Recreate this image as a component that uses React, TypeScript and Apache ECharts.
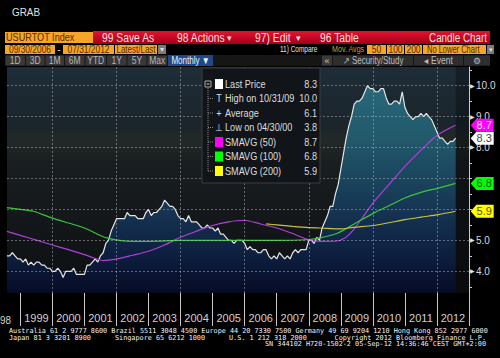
import React, { useEffect, useRef } from "react";
import * as echarts from "echarts";

// ---------- DATA ----------
const startYear = 1998;
const startMonth = 7; // first point: end of July 1998
const lastPrice = [
  // 1998 Jul-Dec
  4.5, 4.5, 4.6, 4.5, 4.4, 4.4,
  // 1999
  4.3, 4.4, 4.2, 4.3, 4.2, 4.3, 4.3, 4.2, 4.2, 4.1, 4.1, 4.0,
  // 2000
  4.0, 4.1, 4.0, 3.8, 4.0, 4.0, 4.0, 4.1, 3.9, 3.9, 3.9, 3.9,
  // 2001
  4.2, 4.2, 4.3, 4.4, 4.3, 4.5, 4.6, 4.9, 5.0, 5.3, 5.5, 5.7,
  // 2002
  5.7, 5.7, 5.7, 5.9, 5.8, 5.8, 5.8, 5.7, 5.7, 5.7, 5.9, 6.0,
  // 2003
  5.8, 5.9, 5.9, 6.0, 6.1, 6.3, 6.2, 6.1, 6.1, 6.0, 5.8, 5.7,
  // 2004
  5.7, 5.6, 5.8, 5.6, 5.6, 5.6, 5.5, 5.4, 5.4, 5.5, 5.4, 5.4,
  // 2005
  5.3, 5.4, 5.2, 5.2, 5.1, 5.0, 5.0, 4.9, 5.0, 5.0, 5.0, 4.9,
  // 2006
  4.7, 4.8, 4.7, 4.7, 4.6, 4.6, 4.7, 4.7, 4.5, 4.4, 4.5, 4.4,
  // 2007
  4.6, 4.5, 4.4, 4.5, 4.4, 4.6, 4.7, 4.6, 4.7, 4.7, 4.7, 5.0,
  // 2008
  5.0, 4.9, 5.1, 5.0, 5.4, 5.6, 5.8, 6.1, 6.1, 6.5, 6.8, 7.3,
  // 2009
  7.8, 8.3, 8.7, 9.0, 9.4, 9.5, 9.5, 9.6, 9.8, 10.0, 9.9, 9.9,
  // 2010
  9.8, 9.8, 9.9, 9.9, 9.6, 9.4, 9.4, 9.5, 9.5, 9.4, 9.8, 9.3,
  // 2011
  9.1, 9.0, 8.9, 9.0, 9.0, 9.1, 9.0, 9.1, 9.0, 8.9, 8.7, 8.5,
  // 2012 Jan-Jul
  8.3, 8.3, 8.2, 8.1, 8.2, 8.2, 8.3,
];

const sma50Years = [1998.58, 1999.0, 1999.5, 2000.0, 2000.5, 2001.0, 2001.3, 2001.6, 2002.0, 2002.5, 2003.0, 2003.5, 2004.0, 2004.5, 2005.0, 2005.5, 2005.95, 2006.5, 2007.0, 2007.5, 2008.0, 2008.4, 2008.85, 2009.13, 2009.4, 2009.7, 2010.0, 2010.54, 2011.0, 2011.52, 2012.03, 2012.58];
const sma50Values = [5.29, 5.16, 5.01, 4.85, 4.70, 4.54, 4.43, 4.35, 4.40, 4.52, 4.65, 4.85, 5.10, 5.30, 5.48, 5.60, 5.65, 5.53, 5.40, 5.22, 5.02, 4.97, 4.98, 5.08, 5.35, 5.77, 6.20, 6.85, 7.39, 7.93, 8.41, 8.72];

const sma100Years = [1998.58, 1999.0, 1999.4, 2000.0, 2000.5, 2001.0, 2001.7, 2002.5, 2003.0, 2004.0, 2005.0, 2006.0, 2007.0, 2007.9, 2008.35, 2008.87, 2009.39, 2010.02, 2010.5, 2011.0, 2011.5, 2012.04, 2012.58];
const sma100Values = [6.06, 6.00, 5.94, 5.72, 5.56, 5.40, 5.08, 4.97, 4.97, 5.0, 5.0, 5.0, 5.0, 5.02, 5.08, 5.22, 5.51, 5.88, 6.12, 6.37, 6.55, 6.69, 6.84];

const sma200Years = [2006.67, 2007.0, 2007.5, 2008.0, 2008.35, 2008.98, 2009.39, 2010.02, 2010.5, 2011.0, 2011.5, 2012.04, 2012.58];
const sma200Values = [5.53, 5.50, 5.45, 5.41, 5.40, 5.37, 5.42, 5.48, 5.57, 5.67, 5.75, 5.83, 5.94];

const yearTicks = [1999, 2000, 2001, 2002, 2003, 2004, 2005, 2006, 2007, 2008, 2009, 2010, 2011, 2012, 2013];
const yearLabelPos = [1999.5, 2000.5, 2001.5, 2002.5, 2003.5, 2004.5, 2005.5, 2006.5, 2007.5, 2008.5, 2009.5, 2010.5, 2011.5, 2012.5];
const gridYears = [2000, 2002, 2004, 2006, 2008, 2010, 2012];
const priceGrid = [4, 5, 6, 7, 8, 9, 10];
const priceLabels = [4, 5, 8, 9, 10]; // 6.0 and 7.0 sit under the value tags
const priceTicks = [3.5, 4, 4.5, 5, 5.5, 6, 6.5, 7, 7.5, 8, 8.5, 9, 9.5, 10, 10.5];

const legendLabels = ["Last Price", "High on 10/31/09", "Average", "Low on 04/30/00", "SMAVG (50)", "SMAVG (100)", "SMAVG (200)"];
const legendValues = ["8.3", "10.0", "6.1", "3.8", "8.7", "6.8", "5.9"];

const FONT = "'Liberation Sans', Arial, sans-serif";
const MONO = "'DejaVu Sans Mono', 'Liberation Mono', monospace";

function R(x: number, y: number, w: number, h: number, fill: any, z = 50, stroke?: string) {
  return {
    type: "rect",
    shape: { x, y, width: w, height: h },
    style: { fill, stroke: stroke || null, lineWidth: stroke ? 1 : 0 },
    z,
    silent: true,
  };
}
function T(x: number, y: number, text: string, fill: string, size: number, align = "left", sx = 0.82, font = FONT, z = 60) {
  return {
    type: "text",
    x,
    y,
    scaleX: sx,
    style: {
      text,
      fill,
      fontSize: size,
      fontFamily: font,
      textAlign: align,
      align,
      textVerticalAlign: "middle",
      verticalAlign: "middle",
    },
    z,
    silent: true,
  };
}

const ORANGE = "#f5a52a";
const DARK = "#5a2800";
const PINK = "#f8dede";

function buildGraphics() {
  const g: any[] = [];
  // plot background
  g.push({
    type: "rect",
    shape: { x: 7, y: 67, width: 462, height: 226 },
    style: {
      fill: new echarts.graphic.LinearGradient(0, 0, 0, 1, [
        { offset: 0, color: "#1e2d38" },
        { offset: 0.25, color: "#1b252c" },
        { offset: 0.33, color: "#222927" },
        { offset: 0.42, color: "#191e21" },
        { offset: 0.65, color: "#14181b" },
        { offset: 1, color: "#0d0f12" },
      ]),
    },
    z: 0,
    silent: true,
  });
  // title
  g.push(T(12, 12, "GRAB", "#e0e0e0", 11, "left", 0.9));
  // row 1
  g.push(R(5, 32, 88, 11, ORANGE));
  g.push(T(6, 37.5, "USURTOT Index", DARK, 11, "left", 0.83));
  g.push(
    R(
      93,
      31,
      397,
      13,
      new echarts.graphic.LinearGradient(0, 0, 0, 1, [
        { offset: 0, color: "#e3142f" },
        { offset: 1, color: "#a3001a" },
      ])
    )
  );
  g.push(T(102, 37.5, "99 Save As", PINK, 12, "left", 0.86));
  g.push(T(177, 37.5, "98 Actions", PINK, 12, "left", 0.86));
  g.push(T(229, 37.5, "▾", PINK, 9, "center", 1));
  g.push(T(255, 37.5, "97) Edit", PINK, 12, "left", 0.86));
  g.push(T(298, 37.5, "▾", PINK, 9, "center", 1));
  g.push(T(320, 37.5, "96 Table", PINK, 12, "left", 0.86));
  g.push(T(487, 37.5, "Candle Chart", PINK, 12, "right", 0.82));
  // row 2
  g.push(R(5, 45, 50, 9, ORANGE));
  g.push(T(30, 49.5, "09/30/2006", DARK, 10, "center", 0.84));
  g.push(T(59, 49.5, "-", "#dddddd", 10, "center", 1));
  g.push(R(63, 45, 51, 9, ORANGE));
  g.push(T(88.5, 49.5, "07/31/2012", DARK, 10, "center", 0.84));
  g.push(R(115, 45, 42, 9, ORANGE));
  g.push(T(136, 49.5, "Latest/Last", DARK, 10, "center", 0.8));
  g.push(R(158, 45, 8, 9, "#7a7a7a"));
  g.push(T(162, 49.5, "▾", "#dddddd", 8, "center", 1));
  g.push(T(280, 49.5, "11) Compare", "#e0e0e0", 9, "left", 0.72));
  g.push(T(332, 49.5, "Mov. Avgs", "#c89b3c", 9, "left", 0.79));
  g.push(R(367, 45, 19, 9, ORANGE));
  g.push(T(376.5, 49.5, "50", DARK, 10, "center", 0.85));
  g.push(R(387, 45, 17, 9, ORANGE));
  g.push(T(395.5, 49.5, "100", DARK, 10, "center", 0.85));
  g.push(R(405, 45, 17, 9, ORANGE));
  g.push(T(413.5, 49.5, "200", DARK, 10, "center", 0.85));
  g.push(R(423, 45, 63, 9, ORANGE));
  g.push(T(427, 49.5, "No Lower Chart", DARK, 10, "left", 0.75));
  g.push(R(487, 45, 7, 9, "#7a7a7a"));
  g.push(T(490.5, 49.5, "▾", "#dddddd", 7, "center", 1));
  // row 3
  g.push(R(5, 55, 485, 11, "#161616"));
  const btns: [string, number, number][] = [
    ["1D", 5, 25.5],
    ["3D", 25.5, 45],
    ["1M", 45, 64.5],
    ["6M", 64.5, 85],
    ["YTD", 85, 106.5],
    ["1Y", 106.5, 127],
    ["5Y", 127, 147],
    ["Max", 147, 167.5],
  ];
  btns.forEach(([t, a, b]) => {
    g.push(R(a + 0.5, 55.5, b - a - 1, 10, "#383838"));
    g.push(T((a + b) / 2, 60.5, t, "#b5b5b5", 10, "center", 0.85));
  });
  g.push(R(168, 55, 45, 11, "#1d4a87"));
  g.push(T(190.5, 60.5, "Monthly ▼", "#f0f0f0", 10, "center", 0.8));
  g.push(R(322, 55.5, 10, 10, "#3a3a3a"));
  g.push(T(327, 60.5, "«", "#cccccc", 9, "center", 1));
  g.push(R(333, 55.5, 80, 10, "#2e2e2e"));
  g.push(T(373, 60.5, "↗ Security/Study", "#bbbbbb", 10, "center", 0.8));
  g.push(R(414, 55.5, 49, 10, "#2e2e2e"));
  g.push(T(438.5, 60.5, "◂ Event", "#bbbbbb", 10, "center", 0.85));
  g.push(R(464, 55.5, 26, 10, "#2e2e2e"));
  g.push(T(477, 60.5, "⚙", "#bbbbbb", 9, "center", 1));

  // legend box
  g.push(R(202, 68, 118, 115, "#111519", 100, "#3a3d40"));
  const rowY = [84, 98.5, 113, 127.5, 142, 156.5, 171];
  g.push({
    type: "line",
    shape: { x1: 208, y1: 88, x2: 208, y2: 171 },
    style: { stroke: "#8a8a8a", lineWidth: 1, lineDash: [1, 1] },
    z: 101,
    silent: true,
  });
  rowY.slice(1).forEach((y) => {
    g.push({
      type: "line",
      shape: { x1: 208, y1: y, x2: 213, y2: y },
      style: { stroke: "#8a8a8a", lineWidth: 1, lineDash: [1, 1] },
      z: 101,
      silent: true,
    });
  });
  g.push(R(205, 81, 6, 6, "#111519", 102, "#aaaaaa"));
  g.push({
    type: "line",
    shape: { x1: 206.5, y1: 84, x2: 209.5, y2: 84 },
    style: { stroke: "#cccccc", lineWidth: 1 },
    z: 103,
    silent: true,
  });
  const swatches = ["#ffffff", null, null, null, "#ff00ff", "#00ff00", "#ffff00"];
  const glyphs = ["", "T", "+", "⊥", "", "", ""];
  rowY.forEach((y, i) => {
    if (swatches[i]) g.push(R(215, y - 5, 8, 10, swatches[i], 102));
    else g.push(T(219, y, glyphs[i], "#dddddd", 10, "center", 0.9, FONT, 102));
    g.push(T(225, y, legendLabels[i], "#dedede", 11, "left", 0.83, FONT, 102));
    g.push(T(317, y, legendValues[i], "#dedede", 11, "right", 0.83, FONT, 102));
  });

  // partial 1998 label at left edge (cut by the page edge in the reference)
  g.push(T(0, 320, "98", "#d0d0d0", 11, "left", 0.9));

  // footer
  const F = (x: number, y: number, s: string, align = "left") => T(x, y, s, "#f0f0f0", 6.8, align, 1, MONO);
  g.push(F(9, 331, "Australia 61 2 9777 8600 Brazil 5511 3048 4500 Europe 44 20 7330 7500 Germany 49 69 9204 1210 Hong Kong 852 2977 6000"));
  g.push(F(9, 337.5, "Japan 81 3 3201 8900"));
  g.push(F(115, 337.5, "Singapore 65 6212 1000"));
  g.push(F(229, 337.5, "U.S. 1 212 318 2000"));
  g.push(F(486, 337.5, "Copyright 2012 Bloomberg Finance L.P.", "right"));
  g.push(F(486, 344, "SN 344102 H720-1502-2 05-Sep-12 14:36:46 CEST GMT+2:00", "right"));
  return g;
}

function tag(value: number, fill: string, textColor: string) {
  return {
    silent: true,
    symbol: "path://M0,6.5L6,0L24,0L24,13L6,13Z",
    symbolSize: [23, 13],
    symbolKeepAspect: false,
    symbolOffset: [13.5, 0],
    itemStyle: { color: fill },
    label: {
      show: true,
      position: "inside",
      offset: [2, 0],
      color: textColor,
      fontSize: 11,
      fontFamily: FONT,
      formatter: (p: any) => Number(p.value).toFixed(1),
    },
    data: [{ coord: [2012.99, value], value }],
  };
}

export default function App() {
  const ref = useRef<HTMLDivElement>(null);
  useEffect(() => {
    if (!ref.current) return;
    const chart = echarts.init(ref.current, undefined, { renderer: "svg" });
    const priceData = lastPrice.map((v, i) => [startYear + (startMonth + i) / 12, v]);
    const pair = (xs: number[], ys: number[]) => xs.map((x, i) => [x, ys[i]]);
    const lastX = priceData[priceData.length - 1][0];

    const option: any = {
      animation: false,
      backgroundColor: "#000000",
      grid: { left: 7, right: 31, top: 67, bottom: 65 },
      xAxis: {
        type: "value",
        min: startYear + startMonth / 12,
        max: 2013,
        axisLine: { show: false },
        axisTick: {
          show: true,
          customValues: yearTicks,
          length: 33,
          lineStyle: { color: "#c8c8c8", width: 1 },
        },
        axisLabel: {
          customValues: yearLabelPos,
          formatter: (v: number) => String(Math.floor(v)),
          color: "#d0d0d0",
          fontSize: 11,
          fontFamily: FONT,
          margin: 19,
        },
        splitLine: { show: false },
      },
      yAxis: {
        type: "value",
        position: "right",
        min: 3.3,
        max: 10.6,
        axisLine: { show: true, lineStyle: { color: "#cccccc", width: 1 } },
        axisTick: {
          show: true,
          customValues: priceTicks,
          length: 3,
          lineStyle: { color: "#cccccc" },
        },
        axisLabel: {
          customValues: priceLabels,
          margin: 1,
          formatter: (v: number) => `{a|▶}{b|${v.toFixed(1)}}`,
          rich: {
            a: { fontSize: 6, color: "#e0e0e0", padding: [0, 1, 0, 0] },
            b: { fontSize: 10, color: "#d8d8d8", fontFamily: FONT },
          },
        },
        splitLine: { show: false },
      },
      graphic: buildGraphics(),
      series: [
        {
          name: "Last Price",
          type: "line",
          data: priceData,
          showSymbol: false,
          symbol: "none",
          lineStyle: { color: "#e6e6e6", width: 1.2 },
          areaStyle: {
            origin: "start",
            color: new echarts.graphic.LinearGradient(0, 0, 0, 1, [
              { offset: 0, color: "#2f8497" },
              { offset: 0.25, color: "#226f88" },
              { offset: 0.5, color: "#1a4f73" },
              { offset: 0.7, color: "#12335f" },
              { offset: 0.85, color: "#0a1f4a" },
              { offset: 1, color: "#030a2c" },
            ]),
          },
          z: 2,
          markLine: {
            silent: true,
            symbol: ["none", "none"],
            label: { show: false },
            lineStyle: { color: "rgba(200,200,200,0.45)", type: [2, 2], width: 1 },
            data: [
              ...priceGrid.map((v) => ({ yAxis: v })),
              ...gridYears.map((v) => ({ xAxis: v })),
            ],
          },
          markArea: {
            silent: true,
            itemStyle: { color: "rgba(0,0,0,0.3)" },
            data: [[{ xAxis: lastX }, { xAxis: 2013 }]],
          },
          markPoint: tag(lastPrice[lastPrice.length - 1], "#ffffff", "#444444"),
        },
        {
          name: "SMAVG (50)",
          type: "line",
          data: pair(sma50Years, sma50Values),
          showSymbol: false,
          symbol: "none",
          smooth: 0.3,
          lineStyle: { color: "#b040d8", width: 1.2 },
          z: 3,
          markPoint: tag(sma50Values[sma50Values.length - 1], "#ff00ff", "#ffe0ff"),
        },
        {
          name: "SMAVG (100)",
          type: "line",
          data: pair(sma100Years, sma100Values),
          showSymbol: false,
          symbol: "none",
          smooth: 0.3,
          lineStyle: { color: "#3cc43c", width: 1.2 },
          z: 3,
          markPoint: tag(sma100Values[sma100Values.length - 1], "#00ff00", "#1a5a1a"),
        },
        {
          name: "SMAVG (200)",
          type: "line",
          data: pair(sma200Years, sma200Values),
          showSymbol: false,
          symbol: "none",
          smooth: 0.3,
          lineStyle: { color: "#c8c43a", width: 1.2 },
          z: 3,
          markPoint: tag(sma200Values[sma200Values.length - 1], "#ffff00", "#5a5000"),
        },
      ],
    };
    chart.setOption(option);
    return () => chart.dispose();
  }, []);
  return (
    <div
      ref={ref}
      style={{ position: "fixed", left: 0, top: 0, width: 500, height: 358, background: "#000" }}
    />
  );
}
